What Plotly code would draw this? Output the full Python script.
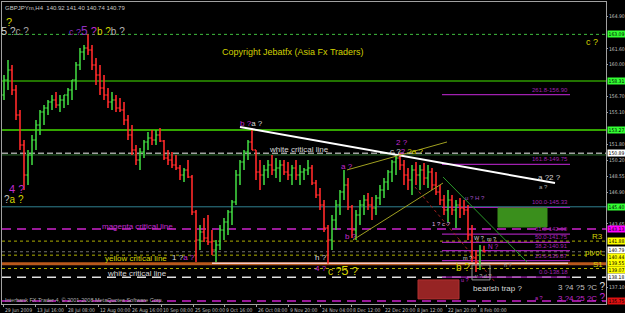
import plotly.graph_objects as go

# ---------------- data (GBPJPYm, H4 – resampled bars) ----------------
highs = [158.92, 160.46, 159.95, 157.90, 155.33, 152.25, 151.23, 152.77, 154.31, 155.33,
         155.84, 156.36, 156.87, 157.18, 156.87, 156.87, 157.59, 158.41, 160.25, 161.69,
         162.00, 163.09, 162.00, 160.66, 159.95, 158.92, 157.59, 157.18, 156.87, 156.56,
         156.15, 154.82, 153.79, 151.74, 151.43, 152.25, 153.07, 153.28, 153.28, 153.48,
         152.25, 151.23, 151.02, 150.72, 149.69, 149.38, 150.20, 148.66, 145.08, 143.54,
         144.25, 144.56, 143.02, 142.00, 143.54, 144.25, 145.08, 146.10, 149.18, 150.20,
         151.23, 152.25, 153.48, 151.23, 150.20, 149.69, 150.20, 150.72, 150.41, 150.20,
         150.20, 150.00, 149.69, 150.20, 149.69, 149.38, 150.20, 149.69, 148.15, 147.33,
         146.10, 143.54, 144.56, 146.10, 147.12, 149.18, 148.36, 145.59, 145.08, 146.10,
         146.61, 146.82, 146.41, 146.61, 147.64, 148.36, 149.18, 150.20, 150.72, 150.92,
         150.20, 149.38, 149.69, 150.00, 149.69, 149.90, 149.69, 149.38, 148.97, 147.64,
         146.61, 147.12, 146.61, 146.10, 146.31, 146.10, 145.59, 143.54, 140.97, 141.49,
         141.40]
lows = [156.36, 157.38, 156.87, 154.31, 151.23, 147.12, 147.64, 149.69, 151.23, 152.77,
        153.79, 154.82, 155.33, 155.54, 155.13, 155.54, 155.84, 156.36, 157.38, 159.43,
        160.46, 160.97, 159.43, 157.90, 156.87, 156.36, 155.54, 155.33, 155.13, 155.13,
        153.79, 152.25, 150.72, 149.69, 149.18, 150.41, 151.23, 151.74, 151.74, 152.05,
        150.20, 149.69, 149.38, 149.18, 148.15, 147.95, 148.36, 144.56, 139.74, 140.97,
        141.79, 141.49, 140.46, 139.74, 140.97, 142.00, 142.51, 143.54, 145.59, 147.64,
        149.18, 150.20, 151.23, 148.15, 147.12, 147.64, 148.36, 148.66, 148.36, 147.95,
        148.66, 148.15, 147.64, 148.15, 147.64, 148.15, 148.66, 147.64, 146.31, 145.08,
        142.82, 139.55, 140.97, 143.02, 144.56, 146.10, 145.08, 142.20, 142.00, 143.54,
        144.56, 145.08, 144.05, 144.56, 145.59, 146.31, 147.12, 147.95, 148.66, 149.18,
        147.64, 147.12, 146.61, 147.64, 147.12, 147.64, 147.33, 147.12, 146.61, 145.59,
        144.56, 143.84, 144.56, 143.23, 144.25, 144.56, 142.00, 139.74, 138.72, 138.92,
        140.74]
closes = [158.41, 159.43, 157.38, 154.82, 151.74, 148.66, 150.72, 152.25, 153.79, 155.13,
          155.54, 156.15, 156.36, 155.84, 156.36, 156.87, 157.38, 158.41, 159.95, 161.28,
          161.69, 161.49, 159.95, 158.92, 157.59, 156.87, 156.15, 156.36, 155.54, 155.33,
          154.31, 152.77, 151.23, 150.20, 151.02, 152.05, 152.46, 152.25, 152.77, 152.15,
          150.41, 150.20, 149.69, 149.38, 148.66, 149.18, 148.46, 144.87, 142.00, 142.82,
          142.20, 141.79, 140.97, 141.49, 143.02, 143.84, 144.87, 145.89, 148.66, 150.00,
          151.02, 152.05, 151.23, 148.97, 148.66, 149.18, 149.69, 149.18, 149.38, 149.69,
          148.97, 148.66, 149.38, 148.66, 148.97, 149.18, 149.38, 147.84, 146.61, 145.59,
          143.23, 142.00, 144.05, 145.59, 146.92, 147.64, 145.38, 143.02, 144.56, 145.59,
          146.10, 145.59, 145.28, 146.31, 147.12, 147.95, 148.97, 150.00, 150.41, 149.69,
          148.66, 148.15, 149.18, 148.66, 149.18, 148.36, 148.97, 147.64, 146.92, 146.10,
          145.08, 146.10, 145.08, 145.59, 145.28, 145.08, 142.51, 140.15, 139.74, 140.92,
          140.79]
first_open = 156.87
opens = [first_open] + closes[:-1]
bars = list(range(len(closes)))

date_labels = ["29 Jun 2009", "13 Jul 16:00", "28 Jul 08:00", "12 Aug 00:00", "26 Aug 16:00",
               "10 Sep 08:00", "25 Sep 00:00", "9 Oct 16:00", "26 Oct 08:00", "9 Nov 20:00",
               "24 Nov 04:00", "8 Dec 12:00", "22 Dec 20:00", "8 Jan 12:00", "22 Jan 20:00",
               "8 Feb 00:00"]
date_pos = [-0.25, 7.75, 15.5, 23.5, 31.5, 39.25, 47.25, 55.0, 63.0, 71.0, 79.0, 86.75,
            94.75, 102.75, 110.5, 118.5]
ytick_vals = [164.90, 161.60, 160.00, 156.70, 155.10, 151.80, 150.20, 148.55, 146.90, 143.65, 137.10]
ytick_text = ["164.90", "161.60", "160.00", "156.70", "155.10", "151.80", "150.20", "148.55",
              "146.90", "143.65", "137.10"]

# horizontal levels
peak_line = 163.09
green_mid = 158.31
green_upper = 153.27
white_top_critical = 150.89
green_thin = 150.72
teal_level = 145.40
magenta_critical = 143.13
r3_level = 141.88
current_price = 140.79
pivot_level = 140.44
pink_level = 139.62
yellow_critical = 139.55
s1_level = 139.07
white_critical = 138.18
magenta_low = 135.75

fib_names = ["261.8", "161.8", "100.0", "61.8", "50.0", "38.2", "23.6", "0.0"]
fib_prices = [156.90, 149.75, 145.33, 142.60, 141.75, 140.91, 139.87, 138.18]

X_RANGE = [-0.5, 150.5]
Y_RANGE = [135.43, 166.41]

M = "#c02ad0"
Y = "#d4d400"
W = "#d8d8d8"
G = "#a8a8a8"
FONT = "Liberation Sans"
NARROW = "Liberation Sans Narrow, DejaVu Sans Condensed, Liberation Sans"

fig = go.Figure()

# ---------------- horizontal lines (below bars) ----------------
def hline(y, color, width=1, dash="solid", x0=0, x1=1, xref="paper", layer="below"):
    fig.add_shape(type="line", xref=xref, yref="y", x0=x0, x1=x1, y0=y, y1=y,
                  line=dict(color=color, width=width, dash=dash), layer=layer)

hline(peak_line, "#3fbf3f", 1, "dot")
hline(green_mid, "#2e9a00", 1.5)
hline(green_upper, "#44dd00", 1.5)
hline(white_top_critical, "#a0a0a0", 1.5, "6px,3px")
hline(green_thin, "#2a6a2a", 1)
hline(teal_level, "#2f8090", 1)
hline(magenta_critical, "#cc22cc", 1.5, "9px,6px")
hline(r3_level, "#b0b000", 1, "dot")
hline(current_price, "#707070", 1, "dot")
hline(pivot_level, "#b0b000", 1, "dot")
hline(yellow_critical, "#b8581c", 3)
hline(pink_level, "#f0c8c8", 1.5, x0=52, x1=141, xref="x")
hline(s1_level, "#b0b000", 1, "dot")
hline(white_critical, "#e0e0e0", 1.5, "9px,6px")
hline(magenta_low, "#cc22cc", 1.5, "9px,6px")

for p in fib_prices:
    hline(p, "#a020b0", 1.2, x0=109.5, x1=141.5, xref="x")

# rectangles
fig.add_shape(type="rect", x0=123.5, x1=135.75, y0=143.33, y1=145.28,
              fillcolor="#3a8f1c", line=dict(color="#3a8f1c", width=1), layer="below")
fig.add_shape(type="rect", x0=103.5, x1=113.75, y0=135.95, y1=137.90,
              fillcolor="#962424", line=dict(color="#b03030", width=1), layer="below")

# ---------------- price bars ----------------
fig.add_trace(go.Ohlc(x=bars, open=opens, high=highs, low=lows, close=closes,
                      increasing=dict(line=dict(color="#3fd13f", width=1.6)),
                      decreasing=dict(line=dict(color="#ff2a2a", width=1.6)),
                      tickwidth=0.4, hoverinfo="skip", showlegend=False))

# ---------------- trend lines ----------------
def tline(x0, y0, x1, y1, color, width=1, dash="solid"):
    fig.add_shape(type="line", xref="x", yref="y", x0=x0, y0=y0, x1=x1, y1=y1,
                  line=dict(color=color, width=width, dash=dash))

tline(59, 153.59, 137.75, 147.84, "#ffffff", 2)
tline(85.75, 149.18, 110.75, 152.05, "#a0a020", 1)
tline(87.25, 142.00, 109.75, 147.84, "#a0a020", 1)
tline(102.75, 147.43, 122.75, 137.69, "#a02020", 1, "dot")
tline(109.75, 148.46, 130.75, 139.74, "#2a9a2a", 1)
fig.add_shape(type="rect", x0=117, x1=121.5, y0=137.90, y1=139.44,
              line=dict(color="#909090", width=1))

# ---------------- texts ----------------
def sp(t, c, s=None):
    st = "color:%s" % c
    if s:
        st += ";font-size:%spx" % s
    return "<span style='%s'>%s</span>" % (st, t)

def txt(x, y, text, color=W, size=8, xanchor="center", yanchor="middle", family=FONT):
    fig.add_annotation(x=x, y=y, xref="x", yref="y", text=text, showarrow=False,
                       font=dict(family=family, size=size, color=color),
                       xanchor=xanchor, yanchor=yanchor)

txt(1.2, 164.36, "?", Y, 11)
txt(2.8, 163.43, sp("5", "#d0d0d0", 11) + " " + sp("?", "#c0c0c0") + sp("c ?", "#a0a0a0"), G, 10)
txt(23.25, 163.43, sp("c ?", "#9030c0", 9) + sp("5", "#9030c0", 12) + sp(" ?", M, 11)
    + sp("b ?", Y, 10) + sp("b ?", "#b0b0b0", 10), M, 10)
txt(3, 147.23, "4 ?", M, 11)
txt(2.5, 146.10, sp("?", "#c0c0c0") + sp("a ?", Y), Y, 10)
txt(61.75, 153.95, sp("b ?", M) + sp("a ?", W), W, 8)
txt(73.75, 151.25, "white critical line", W, 8)
txt(85.75, 149.55, "a ?", M, 8)
txt(99.5, 152.0, "2 ?", M, 8)
txt(100.5, 151.05, sp("c ?", W) + sp("2", M) + sp(" ?", Y) + sp("a ?", Y), W, 8)
txt(136.25, 148.40, "a ?2 ?", W, 8)
txt(134.75, 147.43, "a ?", G, 6)
txt(117.75, 146.31, "u ? H ?", "#a050c0", 6)
txt(109.25, 143.60, "1 ? c ?", "#e0b0e0", 6)
txt(33.25, 143.42, "magenta critical line", M, 8)
txt(33, 140.12, "yellow critical line", Y, 8)
txt(33.25, 138.55, "white critical line", W, 8)
txt(44.75, 140.18, sp("1 ?", W) + sp("a ?", M), W, 8)
txt(79.25, 140.25, "h ?", W, 8)
txt(79.25, 139.10, "4 ?", M, 8)
txt(84.75, 138.90, sp("c ?", Y, 10) + sp("5", Y, 13) + sp(" ?", Y, 11), Y, 10)
txt(86.75, 142.35, "b ?", M, 8)
txt(114.75, 139.13, "b ?", Y, 10)
txt(123.25, 136.97, "bearish trap ?", W, 8)
txt(119.75, 138.31, "v ? d ?", G, 5.5)
txt(115.25, 137.90, "u ?", M, 5.5)
txt(118.75, 142.20, "W ?", W, 5.5)
txt(121.75, 142.10, "m ?", W, 5.5)
txt(122.25, 141.28, "N ?", M, 6.5)
txt(115.9, 140.15, "m ?", W, 5.5)
txt(126, 139.44, "h ?", G, 5.5)
txt(144.25, 137.20, "3 ?4 ?5 ?C " + sp("?", "#e0e0e0", 10), "#c0c0c0", 8)
txt(144.25, 136.05, "3 ?4 ?5 ?C " + sp("?", M, 10), M, 8)
txt(133.75, 136.05, "a ?", M, 5.5)
txt(147, 162.31, "c ?", Y, 9)
txt(150.3, 142.31, "R3", Y, 8, xanchor="right")
txt(150.3, 140.70, "pivot", Y, 8, xanchor="right")
txt(150.3, 139.44, "S1", Y, 8, xanchor="right")
txt(72.25, 161.29, "Copyright Jebatfx (Asia Fx Traders)", "#d0d000", 9)
txt(-0.3, 135.86, "Interbank FX Trader 4, © 2001-2008 MetaQuotes Software Corp.", "#b0b0b0", 5.5,
    xanchor="left")

for name, p in zip(fib_names, fib_prices):
    txt(141.5, p, "%s-%.2f" % (name, p), "#a020b0", 6, xanchor="right", yanchor="bottom")

# header
fig.add_annotation(x=0.002, y=1, xref="paper", yref="paper", xanchor="left", yanchor="top",
                   text="GBPJPYm,H4  140.92 141.40 140.74 140.79", showarrow=False,
                   font=dict(family=FONT, size=6, color="#c8c8c8"), yshift=-1)

# date labels
for lab, pos in zip(date_labels, date_pos):
    fig.add_annotation(x=pos, y=0, xref="x", yref="paper", xanchor="left", yanchor="top",
                       text=lab, showarrow=False, yshift=-1,
                       font=dict(family=NARROW, size=5, color="#c0c0c0"))

# price labels on the axis (value, background, small vertical nudge in px to keep stacked labels readable)
axis_labels = [
    (peak_line, "#33ff33", 0), (green_mid, "#33ff33", 0), (green_upper, "#33ff33", 0),
    (white_top_critical, "#ffffff", 0), (teal_level, "#33ff33", 0), (magenta_critical, "#ff00ff", 0),
    (r3_level, "#ffff00", 0), (current_price, "#ffffff", 1.5), (pivot_level, "#ffff00", -1.5),
    (yellow_critical, "#ffff00", 1), (s1_level, "#ffff00", -1), (white_critical, "#ffffff", 0),
    (magenta_low, "#dd1111", 0),
]
for p, bg, nudge in axis_labels:
    fig.add_annotation(x=1, y=p, xref="paper", yref="y", xanchor="left", yanchor="middle",
                       text="%.2f" % p, showarrow=False, bgcolor=bg, borderpad=0, xshift=1,
                       yshift=nudge,
                       font=dict(family=NARROW, size=5, color="#000000"), width=17, height=6)

fig.update_layout(
    width=625, height=313,
    margin=dict(l=2, r=19, t=2, b=9),
    paper_bgcolor="#000000", plot_bgcolor="#000000",
    showlegend=False,
    xaxis=dict(range=X_RANGE, showgrid=False, zeroline=False, rangeslider=dict(visible=False),
               tickvals=date_pos, ticks="outside", ticklen=2, tickcolor="#a0a0a0",
               showticklabels=False, showline=True, linecolor="#a0a0a0", linewidth=1,
               mirror=True, fixedrange=True),
    yaxis=dict(range=Y_RANGE, side="right", showgrid=False, zeroline=False,
               tickvals=ytick_vals, ticktext=ytick_text, ticks="outside", ticklen=1,
               tickcolor="#a0a0a0", tickfont=dict(family=NARROW, size=5, color="#c0c0c0"),
               showline=True, linecolor="#a0a0a0", linewidth=1, mirror=True,
               automargin=False, fixedrange=True),
)

fig.write_html("out.html")
